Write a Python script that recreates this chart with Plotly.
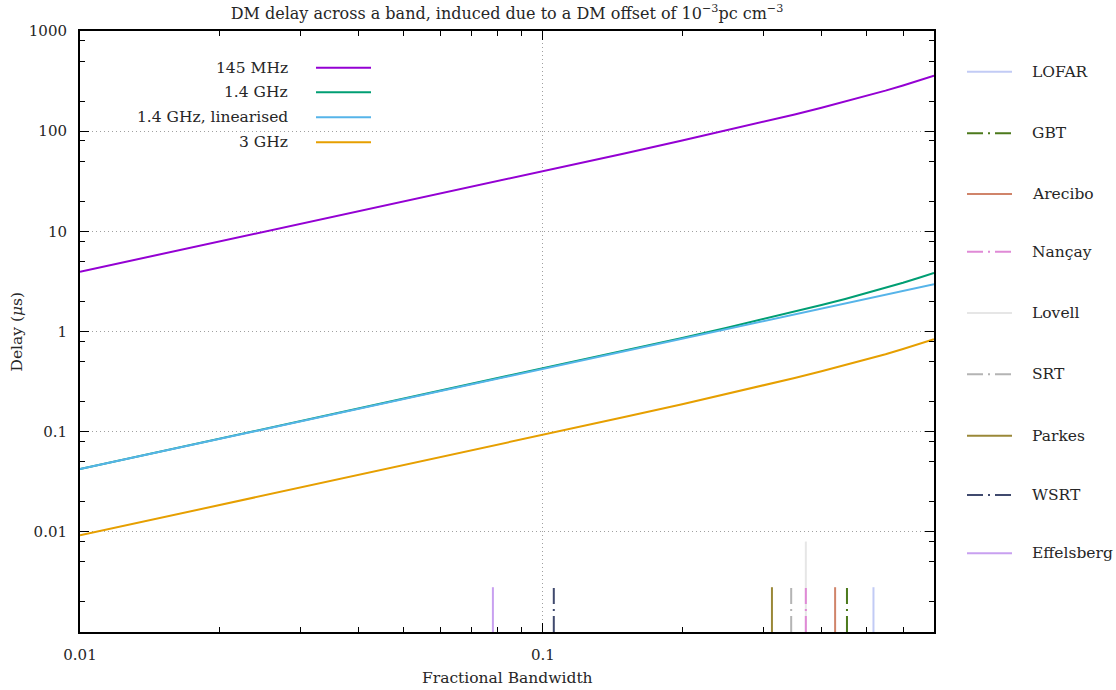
import plotly.graph_objects as go

# ---------------- data ----------------
frac_bw = [0.01, 0.015, 0.02, 0.03, 0.05, 0.07, 0.1, 0.15, 0.2, 0.25, 0.3,
           0.35, 0.4, 0.45, 0.5, 0.55, 0.6, 0.65, 0.7]
delay_145mhz = [3.95, 5.92, 7.89, 11.84, 19.75, 27.69, 39.66, 59.86, 80.52, 101.8,
                123.9, 147.0, 171.3, 197.0, 224.5, 254.0, 285.9, 320.6, 358.7]
delay_1400mhz = [0.0423, 0.0635, 0.0847, 0.1271, 0.2119, 0.2971, 0.4255, 0.6422,
                 0.8639, 1.092, 1.329, 1.577, 1.837, 2.114, 2.408, 2.725, 3.067,
                 3.440, 3.849]
delay_1400mhz_lin = [0.0423, 0.0635, 0.0847, 0.1270, 0.2117, 0.2963, 0.4233, 0.6350,
                     0.8467, 1.058, 1.270, 1.482, 1.693, 1.905, 2.117, 2.328, 2.540,
                     2.752, 2.963]
delay_3ghz = [0.00922, 0.01383, 0.01844, 0.02767, 0.04616, 0.0647, 0.09266, 0.1399,
              0.1881, 0.2379, 0.2895, 0.3434, 0.4002, 0.4603, 0.5245, 0.5934, 0.668,
              0.7492, 0.8381]

curve_names = ["145 MHz", "1.4 GHz", "1.4 GHz, linearised", "3 GHz"]
curve_values = [delay_145mhz, delay_1400mhz, delay_1400mhz_lin, delay_3ghz]
curve_colors = ["#9400d3", "#009e73", "#56b4e9", "#e69f00"]

telescopes = ["LOFAR", "GBT", "Arecibo", "Nançay", "Lovell", "SRT", "Parkes",
              "WSRT", "Effelsberg"]
telescope_bw = [0.518, 0.454, 0.428, 0.370, 0.370, 0.344, 0.3126, 0.1056, 0.078]
telescope_height = [0.0028, 0.0028, 0.0028, 0.0028, 0.008, 0.0028, 0.0028,
                    0.0028, 0.0028]
telescope_floor = 0.001
telescope_colors = ["#c2cbf5", "#4c7a1c", "#d0846a", "#e08ad6", "#e6e6e6",
                    "#b4b4b4", "#9a8838", "#404a6e", "#c8a0f0"]
telescope_dash = ["solid", "dashdot", "solid", "dashdot", "solid", "dashdot",
                  "solid", "dashdot", "solid"]

x_ticks = [0.01, 0.1]
x_ticktext = ["0.01", "0.1"]
x_minor = [0.02, 0.03, 0.04, 0.05, 0.06, 0.07, 0.08, 0.09,
           0.2, 0.3, 0.4, 0.5, 0.6]
y_ticks = [0.01, 0.1, 1, 10, 100, 1000]
y_ticktext = ["0.01", "0.1", "1", "10", "100", "1000"]
y_minor = [m * 10.0 ** k for k in range(-3, 3) for m in (2, 5, 8)]

# ---------------- layout helpers ----------------
L, R, T, B = 80, 934, 31, 632
W, H = R - L, B - T
FONT = "DejaVu Serif"
TXT = "#262626"
FS = 15.5
DASHDOT = "16px,5px,2px,5px"


def px(xp):
    return (xp - L) / W


def py(yp):
    return (B - yp) / H


fig = go.Figure()

# telescope bandwidth markers (Lovell drawn first so Nançay sits on top)
order = [4, 0, 1, 2, 3, 5, 6, 7, 8]
for i in order:
    fig.add_trace(go.Scatter(
        x=[telescope_bw[i], telescope_bw[i]],
        y=[telescope_floor, telescope_height[i]],
        mode="lines", name=telescopes[i], showlegend=False,
        line=dict(color=telescope_colors[i], width=2,
                  dash=DASHDOT if telescope_dash[i] == "dashdot" else "solid"),
    ))

for name, vals, col in zip(curve_names, curve_values, curve_colors):
    fig.add_trace(go.Scatter(x=frac_bw, y=vals, mode="lines", name=name,
                             showlegend=False, line=dict(color=col, width=2)))

shapes = []
annotations = []

# inner (top-left) key: text right-aligned, sample to the right
key_rows = [67.7, 92.3, 117.3, 142.3]
for name, col, yr in zip(curve_names, curve_colors, key_rows):
    annotations.append(dict(xref="paper", yref="paper", x=px(290), y=py(yr),
                            text=name, showarrow=False, xanchor="right",
                            yanchor="middle", font=dict(family=FONT, size=FS,
                                                        color=TXT)))
    shapes.append(dict(type="line", xref="paper", yref="paper",
                       x0=px(316), x1=px(371), y0=py(yr), y1=py(yr),
                       line=dict(color=col, width=2)))

# outer (right) key
out_rows = [71.7, 133.3, 194, 251.7, 313, 374.3, 435.7, 495, 553.3]
for i, yr in enumerate(out_rows):
    shapes.append(dict(type="line", xref="paper", yref="paper",
                       x0=px(967), x1=px(1012), y0=py(yr), y1=py(yr),
                       line=dict(color=telescope_colors[i], width=2,
                                 dash=DASHDOT if telescope_dash[i] == "dashdot"
                                 else "solid")))
    annotations.append(dict(xref="paper", yref="paper", x=px(1030), y=py(yr),
                            text=telescopes[i], showarrow=False, xanchor="left",
                            yanchor="middle", font=dict(family=FONT, size=FS,
                                                        color=TXT)))

# axis titles
annotations.append(dict(xref="paper", yref="paper", x=0.5, y=py(678),
                        text="Fractional Bandwidth", showarrow=False,
                        xanchor="center", yanchor="middle",
                        font=dict(family=FONT, size=FS, color=TXT)))
annotations.append(dict(xref="paper", yref="paper", x=px(16), y=0.5,
                        text="Delay (<i>μ</i>s)", showarrow=False, textangle=-90,
                        xanchor="center", yanchor="middle",
                        font=dict(family=FONT, size=FS, color=TXT)))

axis_common = dict(
    type="log", showline=True, linewidth=2, linecolor="black",
    mirror="allticks", ticks="inside", ticklen=9, tickwidth=1.3,
    tickcolor="black", showgrid=True, gridcolor="#a0a0a0", griddash="1px,3px",
    gridwidth=1, zeroline=False, ticklabelstandoff=8,
    tickfont=dict(family=FONT, size=15, color=TXT),
)

fig.update_layout(
    width=1116, height=690,
    margin=dict(l=L, r=1116 - R, t=T, b=690 - B, autoexpand=False),
    paper_bgcolor="white", plot_bgcolor="white",
    title=dict(text="DM delay across a band, induced due to a DM offset of "
                    "10<sup>−3</sup>pc cm<sup>−3</sup>",
               x=0.5, xref="paper", xanchor="center", y=1 - 13 / 690,
               yanchor="middle", font=dict(family=FONT, size=16, color=TXT)),
    xaxis=dict(range=[-2, -0.15490196], tickvals=x_ticks, ticktext=x_ticktext,
               minor=dict(tickmode="array", tickvals=x_minor, ticks="inside",
                          ticklen=5, tickwidth=1.3, tickcolor="black",
                          showgrid=False),
               **axis_common),
    yaxis=dict(range=[-3, 3], tickvals=y_ticks, ticktext=y_ticktext,
               minor=dict(tickmode="array", tickvals=y_minor, ticks="inside",
                          ticklen=5, tickwidth=1.3, tickcolor="black",
                          showgrid=False),
               **axis_common),
    shapes=shapes, annotations=annotations, showlegend=False,
)

fig.write_html("out.html")
